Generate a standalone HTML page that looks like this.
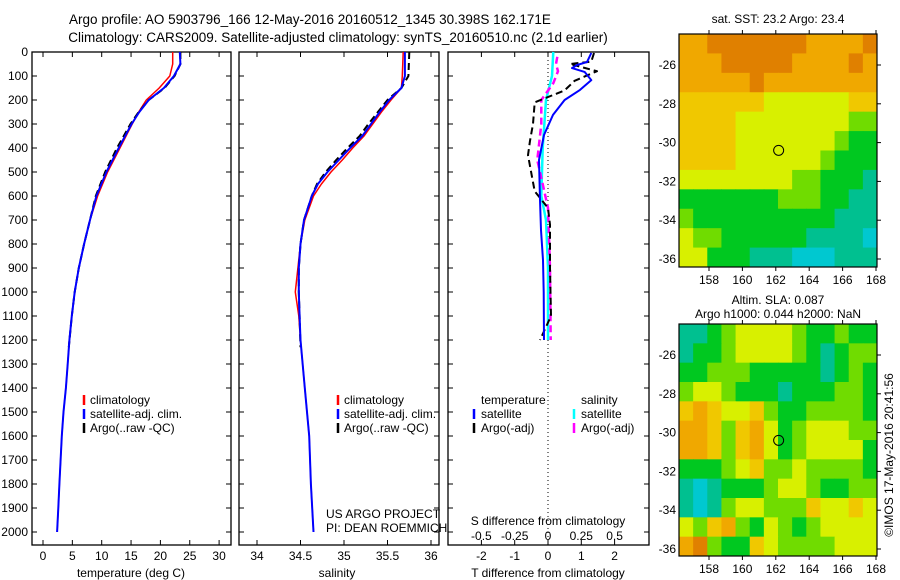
<!DOCTYPE html>
<html><head><meta charset="utf-8">
<style>
html,body{margin:0;padding:0;background:#fff;}
svg{display:block;font-family:"Liberation Sans",sans-serif;}
text{fill:#000;}
</style></head>
<body>
<svg id="fig" width="900" height="580" viewBox="0 0 900 580" xmlns="http://www.w3.org/2000/svg">
<text x="310" y="24" font-size="13.5" text-anchor="middle">Argo profile: AO 5903796_166 12-May-2016 20160512_1345 30.398S 162.171E</text>
<text x="338" y="42" font-size="13.5" text-anchor="middle">Climatology: CARS2009. Satellite-adjusted climatology: synTS_20160510.nc (2.1d earlier)</text>
<g id="g"></g>
</svg>
<script>
// ---------- data ----------
const depthTicks=[0,100,200,300,400,500,600,700,800,900,1000,1100,1200,1300,1400,1500,1600,1700,1800,1900,2000];
const tTicks=[0,5,10,15,20,25,30];
const sTicks=[34,34.5,35,35.5,36];
const dTTicks=[-2,-1,0,1,2];
const dSTicks=[-0.5,-0.25,0,0.25,0.5];
const dSTickLabels=["-0.5","-0.25","0","0.25","0.5"];

const zT=[0,50,100,150,200,250,300,400,500,600,700,800,900,1000,1100,1200,1300,1400,1500,1600,1700,1800,1900,2000];
const tClim=[22.1,22.1,21.6,19.8,17.6,16.3,15.2,13.1,11.0,9.3,8.0,7.0,6.1,5.4,4.9,4.5,4.2,3.9,3.5,3.2,3.0,2.8,2.6,2.4];
const tSat=[23.3,23.4,22.3,20.6,18.0,16.4,15.1,12.9,10.8,9.1,8.0,7.0,6.1,5.4,4.9,4.5,4.2,3.9,3.5,3.2,3.0,2.8,2.6,2.4];
const zArgo=[0,50,100,150,200,250,300,400,500,600,700,800,900,1000,1100,1230];
const tArgo=[23.4,23.4,22.4,20.7,18.0,16.3,14.9,12.6,10.6,9.0,8.0,7.0,6.1,5.4,4.9,4.4];

const zS=[0,100,150,200,250,300,350,400,450,500,550,600,700,800,900,1000,1100,1200,1400,1600,1800,2000];
const sClim=[35.68,35.67,35.66,35.54,35.43,35.33,35.23,35.10,34.98,34.85,34.74,34.65,34.55,34.50,34.47,34.44,34.48,34.50,34.55,34.60,34.62,34.65];
const sSat=[35.70,35.70,35.66,35.52,35.41,35.31,35.21,35.07,34.94,34.81,34.70,34.63,34.54,34.50,34.48,34.48,34.49,34.50,34.55,34.60,34.62,34.65];
const sArgo=[35.75,35.74,35.66,35.50,35.39,35.28,35.18,35.04,34.91,34.79,34.69,34.63,34.54,34.50,34.48,34.48,34.49,34.50];
const zSArgo=[0,100,150,200,250,300,350,400,450,500,550,600,700,800,900,1000,1100,1230];

const zDT=[4,42,54,67,83,117,158,200,262,346,450,617,742,867,1000,1200];
const dTSat=[1.3,1.17,0.87,0.72,1.1,1.3,0.96,0.5,0.15,-0.12,-0.27,-0.24,-0.21,-0.15,-0.13,-0.12];
const zDTA=[4,40,50,60,80,120,160,210,300,370,430,520,580,650,720,900,1100,1200];
const dTArgo=[1.38,1.3,0.66,0.93,1.47,0.8,0.5,-0.4,-0.45,-0.54,-0.6,-0.48,-0.4,0,0.06,0.06,0.09,-0.24];
const zDS=[0,100,200,400,600,700,900,1200];
const dSSat=[0.04,0.03,-0.015,-0.04,-0.05,-0.015,0,0];
const zDSA=[20,50,80,130,200,300,450,550,650,900,1200];
const dSArgo=[0.07,0.06,0.075,0.04,-0.05,-0.05,-0.08,-0.04,0,0.015,0.02];

const lonTicks=[158,160,162,164,166,168];
const latTicks=[-26,-28,-30,-32,-34,-36];
const floatLon=162.17, floatLat=-30.4;
const sstGrid=["88999999988889","88899999888898","88888988888888","77777766666677","77776666666655","77776666666544","77776666665444","66666666554443","44444445554433","54444444444333","65544444433332","66444333222333"];
const slaGrid=["33456666544544","34456666543455","44555444443454","56654443444554","78766754455554","88757864566655","88757864566664","44456755655554","32344456654455","32356655576676","65785465456666","89544765555666"];
const cmap=["#0040ff","#0090ff","#00c8d0","#00c090","#00c820","#70dc00","#d8f000","#f0c800","#f0a800","#e08000"];

// ---------- helpers ----------
const NS="http://www.w3.org/2000/svg";
const G=document.getElementById('g');
function el(t,a,p){const e=document.createElementNS(NS,t);for(const k in a)e.setAttribute(k,a[k]);(p||G).appendChild(e);return e;}
const top0=52, bot=545;
const yD=d=>top0+d*0.24;
const xT=v=>43+v*5.87;
const xS=v=>257+(v-34)*87;
const xDT=v=>548+v*33.3;
const xDS=v=>548+v*133.2;

function panel(name,x0,x1){
  const r=el('rect',{x:x0,y:top0,width:x1-x0,height:bot-top0,fill:'none',stroke:'#000','stroke-width':1.3});
  
  
  depthTicks.forEach(d=>{
    el('line',{x1:x0,x2:x0+5,y1:yD(d),y2:yD(d),stroke:'#000'});
    el('line',{x1:x1-5,x2:x1,y1:yD(d),y2:yD(d),stroke:'#000'});
  });
}
function xticks(vals,fx,labels,ly){
  vals.forEach((v,i)=>{
    el('line',{x1:fx(v),x2:fx(v),y1:bot,y2:bot-5,stroke:'#000'});
    el('line',{x1:fx(v),x2:fx(v),y1:top0,y2:top0+5,stroke:'#000'});
    if(ly){const t=el('text',{x:fx(v),y:ly,'font-size':12,'text-anchor':'middle'});t.textContent=labels?labels[i]:String(v);
    
    }
  });
}
function line(zs,vs,fx,color,w,dash,name){
  const pts=zs.map((z,i)=>fx(vs[i]).toFixed(1)+','+yD(z).toFixed(1)).join(' ');
  const a={points:pts,fill:'none',stroke:color,'stroke-width':w,'stroke-linejoin':'round'};
  if(dash)a['stroke-dasharray']=dash;
  const p=el('polyline',a);
  
  
}
function txt(x,y,s,size,name,anchor){
  const t=el('text',{x:x,y:y,'font-size':size||12,'text-anchor':anchor||'start'});t.textContent=s;
  
  
  return t;
}
function legTick(x,y,c){const l=el('line',{x1:x,x2:x,y1:y-10,y2:y,stroke:c,'stroke-width':2.5});
  
  }

depthTicks.forEach(d=>{txt(28,yD(d)+4,String(d),12,'y-tick-label','end');});

// panel 1 temperature
panel('temperature-panel',32,231);
xticks(tTicks,xT,null,560);
line(zT,tClim,xT,'#ff0000',1.5,null,'temp-climatology-line');
line(zArgo,tArgo,xT,'#000',2,'7,4','temp-argo-line');
line(zT,tSat,xT,'#0000ff',2,null,'temp-satellite-line');
txt(131,577,'temperature (deg C)',12,'x-axis-title-temperature','middle');
legTick(84,405,'#ff0000');txt(90,404,'climatology',12,'legend-entry-climatology');
legTick(84,419,'#0000ff');txt(90,418,'satellite-adj. clim.',12,'legend-entry-satellite');
legTick(84,433,'#000');txt(90,432,'Argo(..raw -QC)',12,'legend-entry-argo');

// panel 2 salinity
panel('salinity-panel',239,439);
xticks(sTicks,xS,["34","34.5","35","35.5","36"],560);
line(zS,sClim,xS,'#ff0000',1.5,null,'sal-climatology-line');
line(zSArgo,sArgo,xS,'#000',2,'7,4','sal-argo-line');
line(zS,sSat,xS,'#0000ff',2,null,'sal-satellite-line');
txt(337,577,'salinity',12,'x-axis-title-salinity','middle');
legTick(338,405,'#ff0000');txt(344,404,'climatology',12,'legend-entry-climatology-2');
legTick(338,419,'#0000ff');txt(344,418,'satellite-adj. clim.',12,'legend-entry-satellite-2');
legTick(338,433,'#000');txt(344,432,'Argo(..raw -QC)',12,'legend-entry-argo-2');
txt(326,518,'US ARGO PROJECT',12,'credit-project');
txt(326,532,'PI: DEAN ROEMMICH',12,'credit-pi');

// panel 3 differences
panel('difference-panel',448,649);
xticks(dTTicks,xDT,null,560);
el('line',{x1:548,x2:548,y1:top0,y2:bot,stroke:'#000','stroke-dasharray':'1,3'});
line(zDS,dSSat,xDS,'#00ffff',2.5,null,'sal-diff-satellite-line');
line(zDSA,dSArgo,xDS,'#ff00ff',2.5,'7,4','sal-diff-argo-line');
line(zDTA,dTArgo,xDT,'#000',2,'7,4','temp-diff-argo-line');
line(zDT,dTSat,xDT,'#0000ff',2,null,'temp-diff-satellite-line');
dSTicks.forEach((v,i)=>txt(xDS(v),540,dSTickLabels[i],12,'s-diff-tick-label','middle'));
txt(548,525,'S difference from climatology',12,'s-diff-axis-title','middle');
txt(548,577,'T difference from climatology',12,'t-diff-axis-title','middle');
txt(481,404,'temperature',12,'legend-title-temperature');
txt(581,404,'salinity',12,'legend-title-salinity');
legTick(474,419,'#0000ff');txt(481,418,'satellite',12,'legend-entry-t-satellite');
legTick(474,433,'#000');txt(481,432,'Argo(-adj)',12,'legend-entry-t-argo');
legTick(574,419,'#00ffff');txt(581,418,'satellite',12,'legend-entry-s-satellite');
legTick(574,433,'#ff00ff');txt(581,432,'Argo(-adj)',12,'legend-entry-s-argo');

// maps
const xL=lon=>709+(lon-158)*16.7;
function map(name,grid,yTop,yBot,lat26,lat36,title1,title2){
  const yL=lat=>lat26+(lat+26)*(lat36-lat26)/(-10);
  const x0=679,x1=877;
  const rows=grid.length, cols=grid[0].length;
  const cw=(x1-x0)/cols, ch=(yBot-yTop)/rows;
  grid.forEach((row,r)=>{for(let c=0;c<cols;c++){
    const cell=el('rect',{x:x0+c*cw,y:yTop+r*ch,width:cw+0.5,height:ch+0.5,fill:cmap[+row[c]]});
    
    
  }});
  const f=el('rect',{x:x0,y:yTop,width:x1-x0,height:yBot-yTop,fill:'none',stroke:'#000','stroke-width':1.2});
  
  
  lonTicks.forEach(l=>{el('line',{x1:xL(l),x2:xL(l),y1:yTop,y2:yTop-4,stroke:'#000'});el('line',{x1:xL(l),x2:xL(l),y1:yBot,y2:yBot+4,stroke:'#000'});
    txt(xL(l),yBot+17,String(l),12,name+'-lon-label','middle');});
  latTicks.forEach(l=>{el('line',{x1:x1,x2:x1+4,y1:yL(l),y2:yL(l),stroke:'#000'});
    txt(676,yL(l)+4,String(l),12,name+'-lat-label','end');});
  const c=el('circle',{cx:xL(floatLon),cy:yL(floatLat),r:5,fill:'none',stroke:'#000','stroke-width':1});
  
  
  if(title2){txt(778,yTop-20,title1,12,name+'-title-1','middle');txt(778,yTop-6,title2,12,name+'-title-2','middle');}
  else txt(778,yTop-11,title1,12,name+'-title','middle');
}
map('sst-map',sstGrid,34,267,65,259,'sat. SST: 23.2 Argo: 23.4');
map('sla-map',slaGrid,324,556,355,549,'Altim. SLA: 0.087','Argo h1000: 0.044 h2000: NaN');
const cr=txt(0,0,'©IMOS 17-May-2016 20:41:56',12,'timestamp-credit','middle');
cr.setAttribute('transform','translate(893,455) rotate(-90)');
</script>
</body></html>
